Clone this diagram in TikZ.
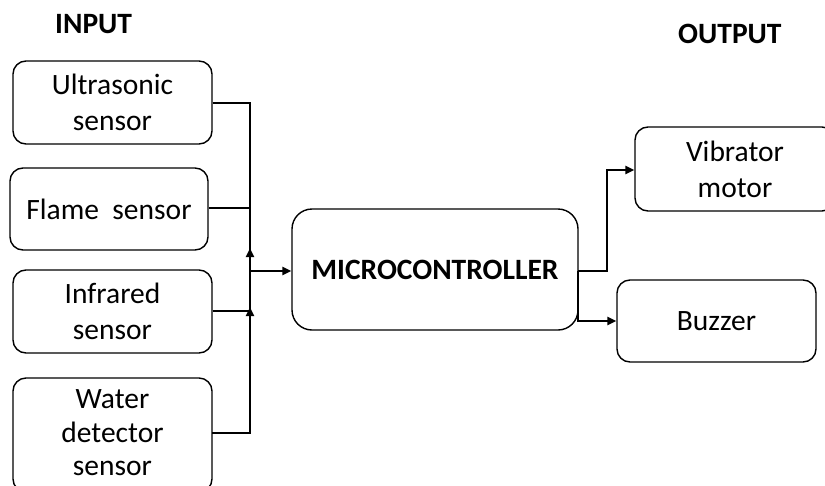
\documentclass[tikz,border=0pt]{standalone}
\usepackage{fontspec}
\setmainfont{Carlito}
\usetikzlibrary{arrows.meta}
\tikzset{
  blk/.style={draw=black, line width=1.4pt, rounded corners=13pt, align=center,
    font=\fontsize{29.5}{36}\selectfont, inner sep=0pt},
  conn/.style={line width=2.6pt},
  arr/.style={line width=2.6pt, -{Triangle[length=9pt,width=8pt]}},
  ttl/.style={font=\fontsize{29.5}{36}\selectfont\bfseries, anchor=base west, inner sep=0pt}
}
\begin{document}
\begin{tikzpicture}[x=1pt,y=-1pt]
\useasboundingbox (0,0) rectangle (825,485);
\clip (0,0) rectangle (825,485);

\node[ttl] (inp) at (55,33) {INPUT};
\node[ttl] (outp) at (678,43) {OUTPUT};

\node[blk, minimum width=199pt, minimum height=83pt] (ultra) at (112.5,102.5) {Ultrasonic\\sensor};
\node[blk, minimum width=198pt, minimum height=82pt] (flame) at (109,209) {Flame~~sensor};
\node[blk, minimum width=199pt, minimum height=83pt] (ir) at (112.5,311.5) {Infrared\\sensor};
\draw[line width=1.4pt, rounded corners=13pt] (13,378) rectangle (212,492);
\node[blk, draw=none, font=\fontsize{29.5}{33.5}\selectfont] (water) at (112.5,433) {Water\\detector\\sensor};

\node[blk, rounded corners=20pt, minimum width=286pt, minimum height=121pt, font=\fontsize{29.5}{36}\selectfont\bfseries] (mcu) at (435,269.5) {MICROCONTROLLER};

\node[blk, minimum width=200pt, minimum height=84pt] (vib) at (735,169) {Vibrator\\motor};
\node[blk, minimum width=199pt, minimum height=82pt] (buzz) at (716.5,321) {Buzzer};

\coordinate (bU) at (250,103);
\coordinate (bF) at (250,208);
\coordinate (bM) at (250,271);
\coordinate (bI) at (250,311);
\coordinate (bW) at (250,433);
\coordinate (aI) at (250,248);
\coordinate (aW) at (250,307);
\coordinate (wE) at (212,433);

\draw[conn] (ultra.east |- bU) -- (bU) -- (bM);
\draw[conn] (flame.east |- bF) -- (bF);
\draw[arr] (ir.east |- bI) -- (bI) -- (aI);
\draw[arr] (wE) -- (bW) -- (aW);
\draw[arr] (bM) -- (mcu.west |- bM);

\coordinate (o1) at (578,271);
\coordinate (o2) at (607,271);
\coordinate (o3) at (607,170);
\coordinate (o4) at (578,321);
\draw[arr] (o1) -- (o2) -- (o3) -- (vib.west |- o3);
\draw[arr] (o1) -- (o4) -- (buzz.west |- o4);
\end{tikzpicture}
\end{document}
